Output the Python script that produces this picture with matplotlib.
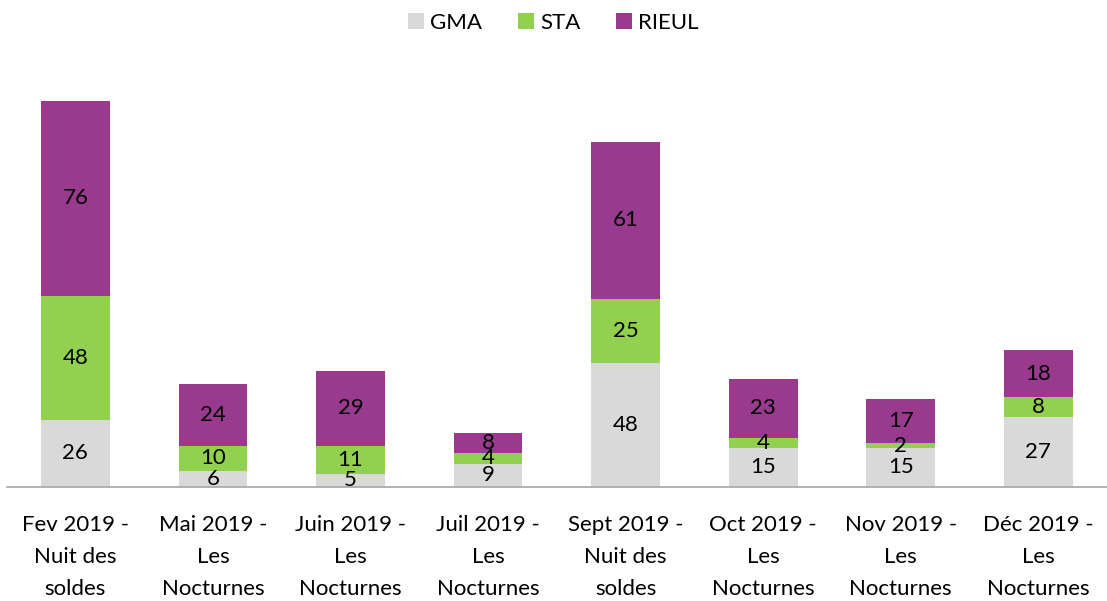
import numpy as np
import matplotlib.pyplot as plt

categories = ["Fev 2019 -\nNuit des\nsoldes", "Mai 2019 -\nLes\nNocturnes",
              "Juin 2019 -\nLes\nNocturnes", "Juil 2019 -\nLes\nNocturnes",
              "Sept 2019 -\nNuit des\nsoldes", "Oct 2019 -\nLes\nNocturnes",
              "Nov 2019 -\nLes\nNocturnes", "Déc 2019 -\nLes\nNocturnes"]
gma = [26, 6, 5, 9, 48, 15, 15, 27]
sta = [48, 10, 11, 4, 25, 4, 2, 8]
rieul = [76, 24, 29, 8, 61, 23, 17, 18]

series = [("GMA", gma, "#D9D9D9"), ("STA", sta, "#92D050"), ("RIEUL", rieul, "#993A8F")]

plt.rcParams['font.family'] = ['Lato', 'DejaVu Sans']

fig = plt.figure(figsize=(11.07, 6.01), dpi=100)
ax = fig.add_axes([0.006, 0.19, 0.994, 0.6855])

x = np.arange(len(categories))
bottom = np.zeros(len(categories))
for name, vals, col in series:
    vals = np.array(vals)
    ax.bar(x, vals, 0.5, bottom=bottom, color=col, label=name)
    for xi, b, v in zip(x, bottom, vals):
        ax.text(xi, b + v / 2, str(v), ha='center', va='center', fontsize=16, color='black')
    bottom += vals

ax.set_xlim(-0.5, len(categories) - 0.5)
ax.set_ylim(0, 160)
ax.set_yticks([])
ax.set_xticks(x)
ax.set_xticklabels(categories, fontsize=16, linespacing=1.75)
ax.tick_params(axis='x', length=0, pad=20)
for s in ['top', 'right', 'left']:
    ax.spines[s].set_visible(False)
ax.spines['bottom'].set_color('#A6A6A6')
ax.spines['bottom'].set_linewidth(1.2)

fig.legend(loc='upper center', bbox_to_anchor=(0.5, 1.012), ncol=3, frameon=False,
           fontsize=16, handlelength=0.7, handleheight=0.7, handletextpad=0.3,
           columnspacing=1.6)

fig.savefig('out.png', dpi=100)
